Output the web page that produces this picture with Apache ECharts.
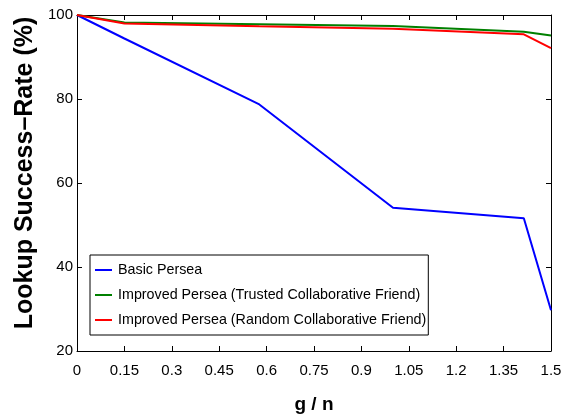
<!DOCTYPE html>
<html>
<head>
<meta charset="utf-8">
<script src="https://cdn.jsdelivr.net/npm/echarts@6/dist/echarts.min.js"></script>
<style>html,body{margin:0;padding:0;background:#fff}#c{width:568px;height:420px}</style>
</head>
<body>
<div id="c"></div>
<script>
var gn = [0, 0.15, 0.577, 1.0, 1.414, 1.5];
var basic = [100, 94.4, 78.7, 54.1, 51.6, 29.7];
var trusted = [100, 98.2, 97.8, 97.4, 96.0, 95.1];
var random = [100, 98.0, 97.3, 96.7, 95.4, 92.1];
var names = ['Basic Persea', 'Improved Persea (Trusted Collaborative Friend)', 'Improved Persea (Random Collaborative Friend)'];
var colors = ['#0000ff', '#008000', '#ff0000'];

function pairs(ys) { return gn.map(function (x, i) { return [x, ys[i]]; }); }

var chart = echarts.init(document.getElementById('c'), null, {renderer: 'canvas'});
var SANS = "'Liberation Sans', Arial, Helvetica, sans-serif";
var tickFont = {fontFamily: SANS, fontSize: 15, color: '#000'};
var baseAxisX = {
  type: 'value', min: 0, max: 1.5, interval: 0.15,
  axisLine: {show: true, onZero: false, lineStyle: {color: '#000', width: 1}},
  axisTick: {show: true, inside: true, length: 5, lineStyle: {color: '#000'}},
  splitLine: {show: false}
};
var baseAxisY = {
  type: 'value', min: 20, max: 100, interval: 20,
  axisLine: {show: true, onZero: false, lineStyle: {color: '#000', width: 1}},
  axisTick: {show: true, inside: true, length: 5, lineStyle: {color: '#000'}},
  splitLine: {show: false}
};
var option = {
  animation: false,
  backgroundColor: '#fff',
  grid: {left: 77, right: 17, top: 15, bottom: 69, containLabel: false},
  xAxis: [
    Object.assign({}, baseAxisX, {
      position: 'bottom',
      axisLabel: Object.assign({margin: 12}, tickFont),
      name: 'g / n', nameLocation: 'middle', nameGap: 44,
      nameTextStyle: {fontFamily: SANS, fontWeight: 'bold', fontSize: 19, color: '#000'}
    }),
    Object.assign({}, baseAxisX, {position: 'top', axisLabel: {show: false}})
  ],
  yAxis: [
    Object.assign({}, baseAxisY, {
      position: 'left',
      axisLabel: Object.assign({margin: 4}, tickFont)
    }),
    Object.assign({}, baseAxisY, {position: 'right', axisLabel: {show: false}})
  ],
  legend: {
    orient: 'vertical', left: 90, top: 255,
    borderColor: '#000', borderWidth: 1, borderRadius: 0,
    padding: [8, 2, 8, 5], itemGap: 11, itemWidth: 17, itemHeight: 2,
    icon: 'rect', backgroundColor: '#fff',
    textStyle: {fontFamily: SANS, fontSize: 14.3, color: '#000', padding: [0, 0, 0, 1]},
    data: names
  },
  graphic: [{
    type: 'text', x: 25, y: 173, rotation: Math.PI / 2,
    style: {text: 'Lookup Success\u2013Rate (%)', fontFamily: SANS, fontWeight: 'bold', fontSize: 25, fill: '#000', textAlign: 'center', textVerticalAlign: 'middle'}
  }],
  series: [basic, trusted, random].map(function (d, i) {
    return {
      name: names[i], type: 'line', data: pairs(d), showSymbol: false, symbol: 'none',
      lineStyle: {color: colors[i], width: 2}, itemStyle: {color: colors[i]}, z: 2 + i
    };
  })
};
chart.setOption(option);
</script>
</body>
</html>
